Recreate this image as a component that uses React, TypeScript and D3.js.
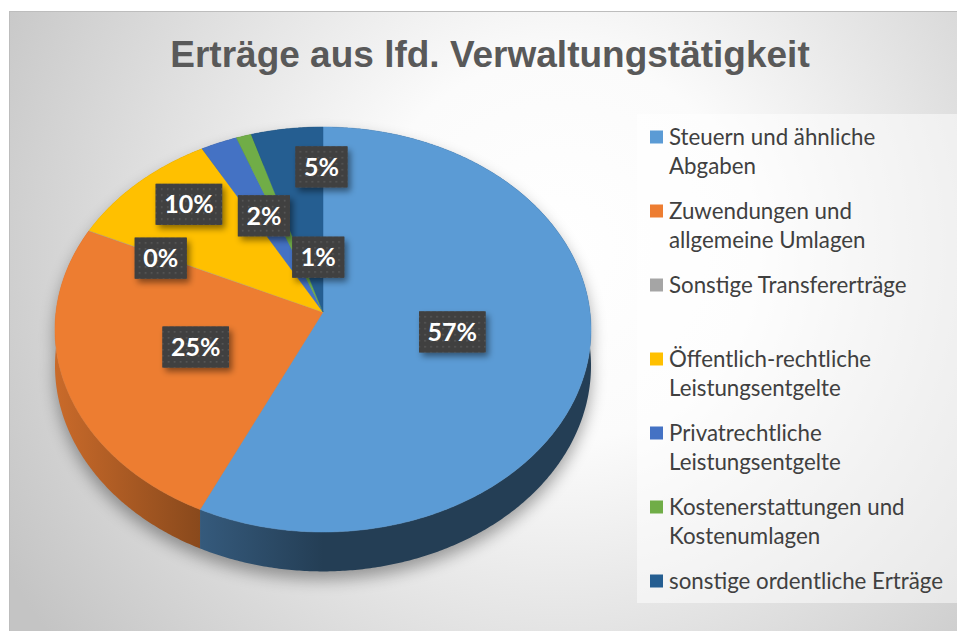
import React, { useRef, useEffect } from "react";
import * as d3 from "d3";

const title = "Erträge aus lfd. Verwaltungstätigkeit";
const categories = [
  "Steuern und ähnliche Abgaben",
  "Zuwendungen und allgemeine Umlagen",
  "Sonstige Transfererträge",
  "Öffentlich-rechtliche Leistungsentgelte",
  "Privatrechtliche Leistungsentgelte",
  "Kostenerstattungen und Kostenumlagen",
  "sonstige ordentliche Erträge",
];
const shares = [57.0, 24.9, 0.04, 10.0, 2.4, 1.0, 4.7];
const colors = ["#5B9BD5", "#ED7D31", "#A5A5A5", "#FFC000", "#4472C4", "#70AD47", "#255E91"];
// where Excel's best-fit put each data label: [degrees past the slice's mid-angle, fraction of radius]
const labelPlacement = [[-1, 0.49], [0, 0.5], [-1, 0.68], [4, 0.77], [0, 0.55], [15, 0.28], [8, 0.77]];

export default function App() {
  const ref = useRef<SVGSVGElement>(null);

  useEffect(() => {
    const width = 957;
    const height = 631;
    const svg = d3.select(ref.current);
    svg.selectAll("*").remove();
    svg.attr("width", width).attr("height", height);
    const defs = svg.append("defs");

    // chart area background
    const bg = defs.append("radialGradient").attr("id", "bg")
      .attr("gradientUnits", "userSpaceOnUse")
      .attr("cx", 560).attr("cy", 250).attr("r", 640);
    bg.append("stop").attr("offset", 0).attr("stop-color", "#ffffff");
    bg.append("stop").attr("offset", 0.3).attr("stop-color", "#fbfbfb");
    bg.append("stop").attr("offset", 1).attr("stop-color", "#c4c4c4");
    svg.append("rect")
      .attr("x", 9.5).attr("y", 11.5).attr("width", 980).attr("height", 640)
      .attr("fill", "url(#bg)").attr("stroke", "#bdbdbd");

    svg.append("text")
      .attr("x", 490).attr("y", 67)
      .attr("text-anchor", "middle")
      .attr("font-family", "'Liberation Sans', Arial, sans-serif")
      .attr("font-weight", "bold")
      .attr("font-size", 37)
      .attr("fill", "#595959")
      .text(title);

    // 3d pie: a disc seen in perspective
    const cx = 323, cy = 312, rx = 267, ry = 201, persp = 0.0864, depth = 36;
    const proj = (a: number, r = 1): [number, number] => {
      const u = Math.cos(a) * r, v = Math.sin(a) * r;
      const k = 1 / (1 + persp * u);
      return [cx + rx * v * k, cy - ry * u * k];
    };
    const drop = (a: number) => depth / (1 + persp * Math.cos(a));
    const arcAngles = (a0: number, a1: number) => {
      const n = Math.max(2, Math.ceil((a1 - a0) / (Math.PI / 360)));
      return d3.range(n + 1).map(i => a0 + (a1 - a0) * i / n);
    };
    const line = d3.line();

    const pie = d3.pie<number>().sort(null).value(d => d);
    const arcs = pie(shares);
    const total = d3.sum(shares);

    // soft shadow under the pie
    const blur = defs.append("filter").attr("id", "blur")
      .attr("x", "-20%").attr("y", "-20%").attr("width", "140%").attr("height", "140%");
    blur.append("feGaussianBlur").attr("stdDeviation", 8);
    const full = arcAngles(0, 2 * Math.PI);
    const outline = full.map(a => proj(a));
    const outlineLow = full.map(a => { const p = proj(a); return [p[0], p[1] + drop(a)] as [number, number]; });
    svg.append("path")
      .attr("d", line(outline) + "Z" + line(outlineLow) + "Z")
      .attr("transform", "translate(0,8)")
      .attr("fill", "#000").attr("opacity", 0.35)
      .attr("filter", "url(#blur)");

    // side walls, shaded left to right
    const shade = [[0, 0.85], [0.27, 0.58], [0.5, 0.4], [1, 0.4]];
    arcs.forEach((d, i) => {
      const g = defs.append("linearGradient").attr("id", `wall${i}`)
        .attr("gradientUnits", "userSpaceOnUse")
        .attr("x1", cx - rx).attr("x2", cx + rx).attr("y1", 0).attr("y2", 0);
      shade.forEach(([o, f]) => {
        const c = d3.rgb(colors[i]);
        g.append("stop").attr("offset", o)
          .attr("stop-color", d3.rgb(c.r * f, c.g * f, c.b * f).formatHex());
      });
      const angs = arcAngles(d.startAngle, d.endAngle);
      const top = angs.map(a => proj(a));
      const low = angs.slice().reverse().map(a => { const p = proj(a); return [p[0], p[1] + drop(a)] as [number, number]; });
      svg.append("path")
        .attr("d", line([...top, ...low]) + "Z")
        .attr("fill", `url(#wall${i})`);
    });

    // top surface
    arcs.forEach((d, i) => {
      const pts = [[cx, cy] as [number, number], ...arcAngles(d.startAngle, d.endAngle).map(a => proj(a))];
      svg.append("path")
        .attr("d", line(pts) + "Z")
        .attr("fill", colors[i])
        .attr("stroke", colors[i]).attr("stroke-width", 0.5);
    });

    // data labels
    const pat = defs.append("pattern").attr("id", "dots")
      .attr("patternUnits", "userSpaceOnUse").attr("width", 6).attr("height", 6);
    pat.append("rect").attr("width", 6).attr("height", 6).attr("fill", "#404040");
    pat.append("rect").attr("x", 2).attr("y", 2).attr("width", 1.6).attr("height", 1.6).attr("fill", "#585858");
    const sh = defs.append("filter").attr("id", "boxShadow")
      .attr("x", "-30%").attr("y", "-30%").attr("width", "160%").attr("height", "160%");
    sh.append("feDropShadow").attr("dx", 3).attr("dy", 4).attr("stdDeviation", 3)
      .attr("flood-color", "#000").attr("flood-opacity", 0.45);

    arcs.forEach((d, i) => {
      const [dAng, r] = labelPlacement[i];
      const mid = (d.startAngle + d.endAngle) / 2 + dAng * Math.PI / 180;
      const [x, y] = proj(mid, r);
      const g = svg.append("g").attr("transform", `translate(${x},${y})`);
      const box = g.append("rect").attr("height", 41).attr("y", -20.5).attr("fill", "#404040").attr("filter", "url(#boxShadow)");
      const box2 = g.append("rect").attr("height", 41).attr("y", -20.5).attr("fill", "url(#dots)");
      const t = g.append("text")
        .attr("text-anchor", "middle").attr("dy", "0.36em")
        .attr("font-family", "Lato, 'Open Sans', sans-serif")
        .attr("font-weight", "bold").attr("font-size", 25)
        .attr("fill", "#fff")
        .text(`${Math.round(d.data / total * 100)}%`);
      const w = (t.node() as SVGTextElement).getComputedTextLength() + 17;
      box.attr("x", -w / 2).attr("width", w);
      box2.attr("x", -w / 2).attr("width", w);
    });

    // legend
    svg.append("rect")
      .attr("x", 637).attr("y", 114).attr("width", 330).attr("height", 489)
      .attr("fill", "#fff").attr("opacity", 0.5);
    const ly = d3.scalePoint().domain(categories).range([137, 581]);
    const maxW = 282;
    categories.forEach((name, i) => {
      const yc = ly(name) as number;
      svg.append("rect")
        .attr("x", 650).attr("y", yc - 6.5).attr("width", 13).attr("height", 13)
        .attr("fill", colors[i]);
      const t = svg.append("text")
        .attr("x", 669).attr("y", yc)
        .attr("font-family", "Lato, 'Open Sans', sans-serif")
        .attr("font-size", 22.3)
        .attr("fill", "#404040");
      const words = name.split(" ");
      let lineWords: string[] = [];
      let ts = t.append("tspan").attr("x", 669).attr("dy", "0.35em");
      words.forEach(w => {
        lineWords.push(w);
        ts.text(lineWords.join(" "));
        if ((ts.node() as SVGTSpanElement).getComputedTextLength() > maxW && lineWords.length > 1) {
          lineWords.pop();
          ts.text(lineWords.join(" "));
          lineWords = [w];
          ts = t.append("tspan").attr("x", 669).attr("dy", 29).text(w);
        }
      });
    });
  }, []);

  return <svg ref={ref} style={{ position: "absolute", left: 0, top: 0, display: "block" }}></svg>;
}
